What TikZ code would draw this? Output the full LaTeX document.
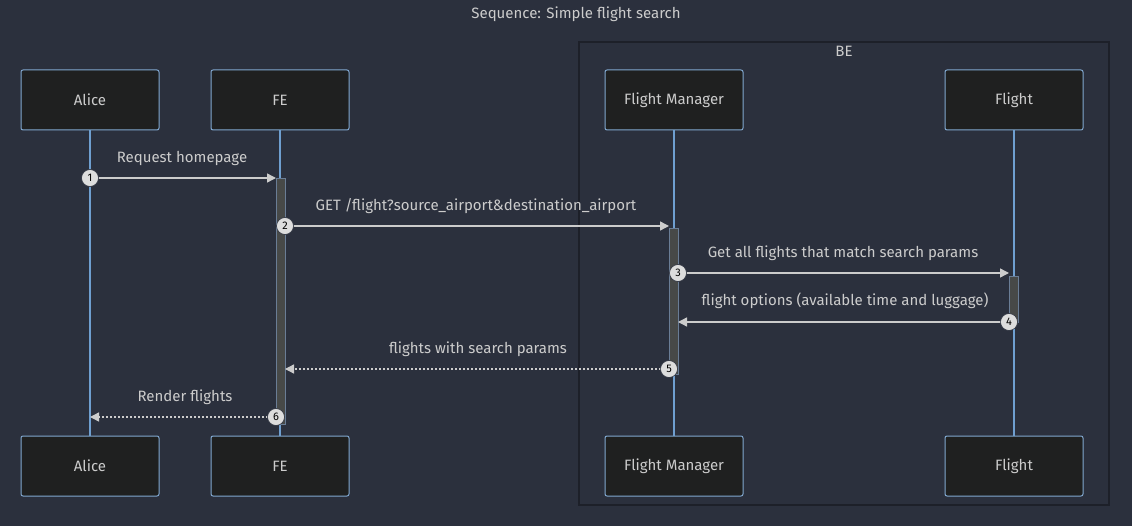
\documentclass[tikz,border=0pt]{standalone}
\usepackage{fontspec}
\setmainfont{Fira Sans}
\usetikzlibrary{arrows.meta}
\definecolor{bg}{HTML}{2B303D}
\definecolor{boxfill}{HTML}{1F2020}
\definecolor{boxline}{HTML}{81A8D0}
\definecolor{lifeline}{HTML}{6F9FD0}
\definecolor{txt}{HTML}{CCCCCC}
\definecolor{arr}{HTML}{CCCCCC}
\definecolor{actfill}{HTML}{474948}
\definecolor{actline}{HTML}{6A7D96}
\definecolor{befrm}{HTML}{1D2029}
\definecolor{numfill}{HTML}{DDDDDD}
\tikzset{
  actor/.style={draw=boxline, fill=boxfill, rounded corners=2pt, line width=1pt,
    minimum width=138pt, minimum height=60pt, text=txt, font=\fontsize{15}{17}\selectfont},
  lline/.style={draw=lifeline, line width=1.2pt},
  actbox/.style={draw=actline, fill=actfill, line width=0.8pt},
  msg/.style={draw=arr, line width=1.4pt, -{Triangle[length=9pt,width=9pt]}},
  rmsg/.style={msg, dash pattern=on 2pt off 2pt},
  lbl/.style={text=txt, font=\fontsize{15}{17}\selectfont, anchor=base},
  num/.style={circle, fill=numfill, draw=bg, line width=0.6pt, inner sep=0pt, minimum size=17pt,
    text=black, font=\fontsize{11}{11}\selectfont},
}
\begin{document}
\begin{tikzpicture}[x=1pt,y=-1pt]
\fill[bg] (0,0) rectangle (1132,526);
\useasboundingbox (0,0) rectangle (1132,526);
\node[lbl, anchor=center] (title) at (576,14) {Sequence: Simple flight search};
% BE frame
\draw[befrm, line width=1.5pt] (579,42) rectangle (1109,505);
\node[lbl, anchor=center] (be) at (844,51) {BE};
% actors
\node[actor] (aT) at (90,100) {Alice};
\node[actor] (fT) at (280,100) {FE};
\node[actor] (mT) at (674,100) {Flight Manager};
\node[actor] (gT) at (1014,100) {Flight};
\node[actor] (aB) at (90,466) {Alice};
\node[actor] (fB) at (280,466) {FE};
\node[actor] (mB) at (674,466) {Flight Manager};
\node[actor] (gB) at (1014,466) {Flight};
\draw[lline] (aT.south) -- (aB.north);
\draw[lline] (fT.south) -- (fB.north);
\draw[lline] (mT.south) -- (mB.north);
\draw[lline] (gT.south) -- (gB.north);
% activations
\draw[actbox] (276,178) rectangle (285,424);
\draw[actbox] (669,228) rectangle (678,374);
\draw[actbox] (1009,276) rectangle (1018,322);
% message anchors
\coordinate (m1s) at (90,178);   \coordinate (m1e) at (276,178);
\coordinate (m2s) at (285,226);  \coordinate (m2e) at (669,226);
\coordinate (m3s) at (678,273);  \coordinate (m3e) at (1009,273);
\coordinate (m4s) at (1009,322); \coordinate (m4e) at (678,322);
\coordinate (m5s) at (669,369);  \coordinate (m5e) at (285,369);
\coordinate (m6s) at (276,417);  \coordinate (m6e) at (90,417);
\draw[msg] (m1s) -- (m1e);
\draw[msg] (m2s) -- (m2e);
\draw[msg] (m3s) -- (m3e);
\draw[msg] (m4s) -- (m4e);
\draw[rmsg] (m5s) -- (m5e);
\draw[rmsg] (m6s) -- (m6e);
\node[lbl] (l1) at (182,163) {Request homepage};
\node[lbl] (l2) at (476,211) {GET /flight?source\_airport\&destination\_airport};
\node[lbl] (l3) at (843,258) {Get all flights that match search params};
\node[lbl] (l4) at (845,306) {flight options (available time and luggage)};
\node[lbl] (l5) at (478,354) {flights with search params};
\node[lbl] (l6) at (185,401) {Render flights};
\node[num] (n1) at (m1s) {1};
\node[num] (n2) at (m2s) {2};
\node[num] (n3) at (m3s) {3};
\node[num] (n4) at (m4s) {4};
\node[num] (n5) at (m5s) {5};
\node[num] (n6) at (m6s) {6};
\end{tikzpicture}
\end{document}
